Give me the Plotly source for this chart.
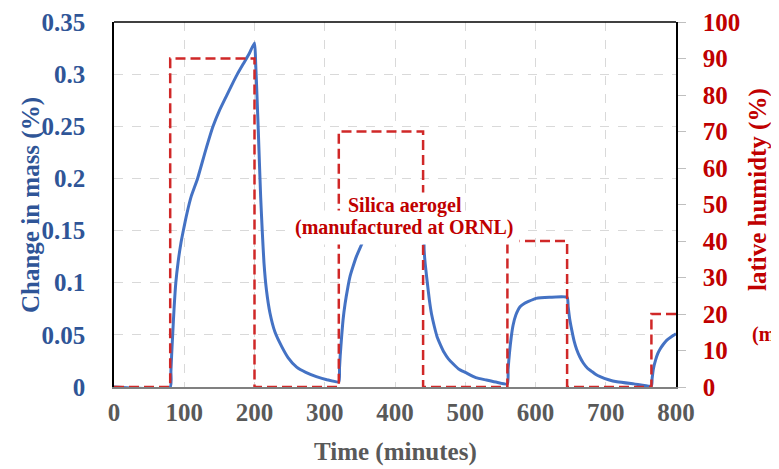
import plotly.graph_objects as go

# ---- data ----
time_min = [0, 80, 81, 82, 83.5, 85.5, 88, 91.5, 95, 98.7, 104, 110, 119, 130, 141, 150, 160, 168, 175.6, 185, 192, 200,
            201.7, 203.5, 205.4, 207, 208.8, 211, 213.5, 217, 222, 229, 238.6, 248, 260, 273, 288, 303, 320,
            321, 322, 324, 326, 329, 333, 336, 340, 345, 350, 357, 365, 372, 380, 390, 400, 420, 440,
            441, 441.5, 443, 446, 449, 452, 456, 460, 465, 470, 476, 483, 491, 500, 515, 530, 545, 560,
            561, 563, 565.5, 568, 572, 578, 584, 590, 601, 620, 645,
            646.5, 648.5, 651.5, 655, 658.6, 663, 668, 674, 680, 686, 692, 704, 716, 740, 765,
            766, 768, 771, 774, 777, 782, 787, 793, 800]
mass_change = [0, 0, 0.015, 0.030, 0.050, 0.075, 0.100, 0.121, 0.137, 0.150, 0.167, 0.183, 0.200, 0.226, 0.250, 0.265, 0.279, 0.290, 0.300, 0.311, 0.319, 0.330,
               0.310, 0.280, 0.246, 0.215, 0.182, 0.150, 0.119, 0.093, 0.071, 0.053, 0.039, 0.028, 0.019, 0.014, 0.010, 0.007, 0.005,
               0.018, 0.030, 0.048, 0.064, 0.080, 0.096, 0.106, 0.115, 0.125, 0.133, 0.143, 0.151, 0.157, 0.162, 0.166, 0.169, 0.173, 0.176,
               0.150, 0.131, 0.118, 0.100, 0.083, 0.070, 0.058, 0.048, 0.040, 0.033, 0.027, 0.022, 0.017, 0.014, 0.009, 0.0067, 0.0045, 0.003,
               0.017, 0.033, 0.048, 0.059, 0.069, 0.077, 0.080, 0.082, 0.085, 0.086, 0.086,
               0.077, 0.066, 0.055, 0.044, 0.036, 0.029, 0.023, 0.018, 0.015, 0.012, 0.010, 0.007, 0.005, 0.003, 0.001,
               0.008, 0.018, 0.026, 0.032, 0.036, 0.041, 0.045, 0.048, 0.051]

rh_time = [0, 80, 200, 320, 440, 560, 645, 765, 800]
rh_value = [0, 90, 0, 70, 0, 40, 0, 20, 20]

x_ticks = [0, 100, 200, 300, 400, 500, 600, 700, 800]
y_ticks = [0, 0.05, 0.1, 0.15, 0.2, 0.25, 0.3, 0.35]
y_tick_labels = ["0", "0.05", "0.1", "0.15", "0.2", "0.25", "0.3", "0.35"]
y2_ticks = [0, 10, 20, 30, 40, 50, 60, 70, 80, 90, 100]

BLUE = "#4472C4"
BLUE_TXT = "#2F5597"
RED = "#C00000"
GRAY_TXT = "#595959"
FONT = "Liberation Serif"

# the page body adds an 8px margin, so the figure is 8px smaller each way
W, H = 771, 461
ML, MT, MR, MB = 106, 14, 103, 82
PW, PH = W - ML - MR, H - MT - MB


def px_x(px):  # window pixel -> paper x
    return (px - 8 - ML) / PW


def px_y(py):  # window pixel -> paper y
    return (H - MB - (py - 8)) / PH


fig = go.Figure()
fig.add_trace(go.Scatter(x=rh_time, y=rh_value, mode="lines", line_shape="hv",
                         line=dict(color="#D02828", width=2.5, dash="10px,5px"),
                         yaxis="y2", showlegend=False))
fig.add_trace(go.Scatter(x=time_min, y=mass_change, mode="lines",
                         line=dict(color=BLUE, width=3, shape="spline", smoothing=0.5),
                         showlegend=False))

fig.update_layout(
    width=W, height=H,
    margin=dict(l=ML, r=MR, t=MT, b=MB, autoexpand=False),
    paper_bgcolor="white", plot_bgcolor="white",
    font=dict(family=FONT),
    xaxis=dict(range=[0, 800], tickvals=x_ticks, ticktext=[f"<b>{t}</b>" for t in x_ticks],
               showgrid=True, automargin=False,
               gridcolor="#D9D9D9", griddash="dash", gridwidth=1,
               showline=True, linecolor="#808080", linewidth=1.5,
               ticks="", ticklabelstandoff=2, zeroline=False,
               tickfont=dict(family=FONT, size=25, color=GRAY_TXT)),
    yaxis=dict(range=[0, 0.35], tickvals=y_ticks, ticktext=[f"<b>{t}</b>" for t in y_tick_labels],
               showgrid=True, automargin=False, gridcolor="#D9D9D9", griddash="dash", gridwidth=1,
               showline=True, linecolor="black", linewidth=1.5, zeroline=False,
               ticks="", ticklabelstandoff=22,
               tickfont=dict(family=FONT, size=25, color=BLUE_TXT)),
    yaxis2=dict(range=[0, 100], tickvals=y2_ticks, ticktext=[f"<b>{t}</b>" for t in y2_ticks],
                overlaying="y", side="right", showgrid=False, zeroline=False, automargin=False,
                showline=True, linecolor="black", linewidth=1.5,
                ticks="outside", ticklen=8, tickcolor="#BFBFBF", ticklabelstandoff=12,
                tickfont=dict(family=FONT, size=25, color=RED)),
)

# top border of the plot frame
fig.add_shape(type="line", xref="paper", yref="paper", x0=0, x1=1, y0=1, y1=1,
              line=dict(color="black", width=1.5))

fig.add_annotation(x=414, y=0.1534, xref="x", yref="y",
                   text="<b>(manufactured at ORNL)</b>", showarrow=False,
                   font=dict(family=FONT, size=20, color=RED),
                   bgcolor="white", borderpad=5)
fig.add_annotation(x=414, y=0.1745, xref="x", yref="y",
                   text="<b>Silica aerogel</b>", showarrow=False,
                   font=dict(family=FONT, size=20, color=RED),
                   bgcolor="white", borderpad=1)
# axis titles
fig.add_annotation(x=px_x(395), y=px_y(452), xref="paper", yref="paper",
                   xanchor="center", yanchor="middle",
                   text="<b>Time (minutes)</b>", showarrow=False,
                   font=dict(family=FONT, size=25, color=GRAY_TXT))
fig.add_annotation(x=px_x(31), y=px_y(205), xref="paper", yref="paper",
                   xanchor="center", yanchor="middle",
                   text="<b>Change in mass (%)</b>", textangle=-90, showarrow=False,
                   font=dict(family=FONT, size=25, color=BLUE_TXT))
# right axis title (cut off at the image edge in the reference)
fig.add_annotation(x=px_x(758), y=px_y(190), xref="paper", yref="paper",
                   xanchor="center", yanchor="middle",
                   text="<b>lative humidty (%)</b>", textangle=-90, showarrow=False,
                   font=dict(family=FONT, size=25, color=RED))
fig.add_annotation(x=px_x(778), y=px_y(334), xref="paper", yref="paper",
                   text="<b>(m</b>", xanchor="right", yanchor="middle", showarrow=False,
                   font=dict(family=FONT, size=20, color=RED))

fig.write_html("out.html")
